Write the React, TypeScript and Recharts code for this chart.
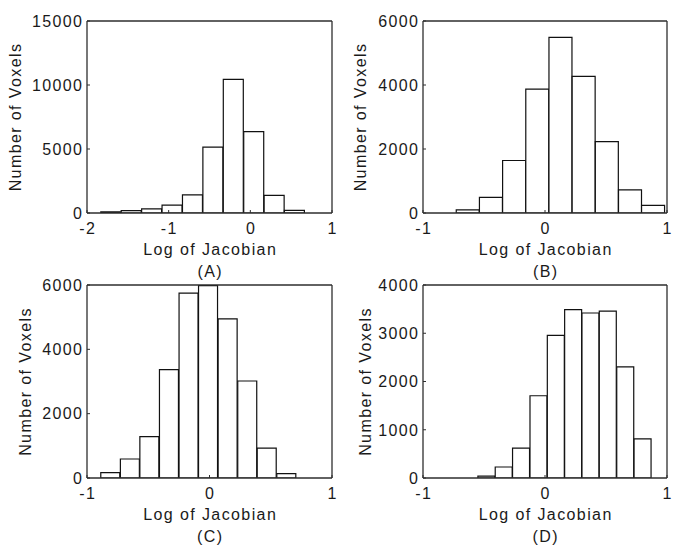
import { BarChart, Bar, XAxis, YAxis, ReferenceLine } from "recharts";

const FONT = '"Liberation Sans", Arial, Helvetica, sans-serif';
const INK = "#1a1a1a";
const FRAME = "#2e2e2e";

// (A) bin centres and voxel counts
const binsA = [-1.707, -1.457, -1.207, -0.957, -0.707, -0.457, -0.207, 0.043, 0.293, 0.541];
const countsA = [90, 180, 320, 620, 1420, 5150, 10440, 6350, 1380, 200];
// (B)
const binsB = [-0.633, -0.443, -0.253, -0.063, 0.127, 0.317, 0.507, 0.697, 0.886];
const countsB = [100, 490, 1640, 3870, 5490, 4270, 2230, 720, 240];
// (C)
const binsC = [-0.808, -0.648, -0.489, -0.329, -0.169, -0.01, 0.15, 0.31, 0.469, 0.629];
const countsC = [170, 590, 1285, 3370, 5750, 5980, 4950, 3015, 930, 135];
// (D)
const binsD = [-0.479, -0.337, -0.195, -0.052, 0.09, 0.232, 0.374, 0.516, 0.659, 0.801];
const countsD = [40, 228, 620, 1705, 2955, 3490, 3420, 3460, 2305, 810];

const xTicksWide = [-2, -1, 0, 1];
const xTicksUnit = [-1, 0, 1];
const yTicksA = [0, 5000, 10000, 15000];
const yTicksBC = [0, 2000, 4000, 6000];
const yTicksD = [0, 1000, 2000, 3000, 4000];

const X_LABEL = "Log of Jacobian";
const Y_LABEL = "Number of Voxels";

const textStyle = { fontFamily: FONT, fontSize: 16, letterSpacing: 1.4, fill: INK };

const BottomTick = (props: any) => {
  const { x, y, payload } = props;
  return (
    <g>
      <line x1={x} y1={y} x2={x} y2={y - 3} stroke={FRAME} strokeWidth={1} />
      <text x={x + 0.7} y={y + 20.5} textAnchor="middle" style={textStyle}>
        {payload.value}
      </text>
    </g>
  );
};

const LeftTick = (props: any) => {
  const { x, y, payload } = props;
  return (
    <g>
      <line x1={x} y1={y} x2={x + 3} y2={y} stroke={FRAME} strokeWidth={1} />
      <text x={x - 3.6} y={y + 5.8} textAnchor="end" style={textStyle}>
        {payload.value}
      </text>
    </g>
  );
};

interface PanelProps {
  bins: number[];
  counts: number[];
  xDomain: [number, number];
  xTicks: number[];
  yDomain: [number, number];
  yTicks: number[];
  tag: string;
  left: number;
  top: number;
  height: number;
  marginTop: number;
  marginRight: number;
  yAxisWidth: number;
  xAxisHeight: number;
  yLabelX: number;
}

function Panel(p: PanelProps) {
  const data = p.bins.map((x, i) => ({ x, count: p.counts[i] }));
  return (
    <div style={{ position: "absolute", left: p.left, top: p.top }}>
      <BarChart
        width={339}
        height={p.height}
        data={data}
        margin={{ top: p.marginTop, right: p.marginRight, left: 0, bottom: 0 }}
        barCategoryGap={0}
        barGap={0}
      >
        <XAxis
          dataKey="x"
          type="number"
          domain={p.xDomain}
          ticks={p.xTicks}
          allowDataOverflow
          height={p.xAxisHeight}
          tickSize={0}
          tickMargin={0}
          tick={<BottomTick />}
          axisLine={{ stroke: FRAME, strokeWidth: 1.3 }}
          interval={0}
          label={{
            content: (lp: any) => {
              const vb = lp.viewBox;
              const cx = vb.x + vb.width / 2 + 0.7;
              return (
                <g>
                  <text x={cx} y={vb.y + 41.5} textAnchor="middle" style={textStyle}>
                    {X_LABEL}
                  </text>
                  <text x={cx} y={vb.y + 64} textAnchor="middle" style={textStyle}>
                    {`(${p.tag})`}
                  </text>
                </g>
              );
            },
          }}
        />
        <YAxis
          type="number"
          domain={p.yDomain}
          ticks={p.yTicks}
          allowDataOverflow
          width={p.yAxisWidth}
          tickSize={0}
          tickMargin={0}
          tick={<LeftTick />}
          axisLine={{ stroke: FRAME, strokeWidth: 1.3 }}
          interval={0}
          label={{
            content: (lp: any) => {
              const vb = lp.viewBox;
              const cy = vb.y + vb.height / 2;
              return (
                <text
                  x={p.yLabelX}
                  y={cy}
                  textAnchor="middle"
                  transform={`rotate(-90, ${p.yLabelX}, ${cy})`}
                  style={textStyle}
                >
                  {Y_LABEL}
                </text>
              );
            },
          }}
        />
        <Bar dataKey="count" fill="#ffffff" stroke="#111111" strokeWidth={1.2} isAnimationActive={false} />
        {/* box edges on top and right */}
        <ReferenceLine y={p.yDomain[1]} stroke={FRAME} strokeWidth={1.3} />
        <ReferenceLine x={p.xDomain[1]} stroke={FRAME} strokeWidth={1.3} />
      </BarChart>
    </div>
  );
}

export default function App() {
  return (
    <div style={{ position: "absolute", left: 0, top: 0, width: 678, height: 549, background: "#ffffff" }}>
      <Panel
        bins={binsA}
        counts={countsA}
        xDomain={[-2, 1]}
        xTicks={xTicksWide}
        yDomain={[0, 15000]}
        yTicks={yTicksA}
        tag="A"
        left={0}
        top={0}
        height={285}
        marginTop={21}
        marginRight={7}
        yAxisWidth={87}
        xAxisHeight={72}
        yLabelX={20.5}
      />
      <Panel
        bins={binsB}
        counts={countsB}
        xDomain={[-1, 1]}
        xTicks={xTicksUnit}
        yDomain={[0, 6000]}
        yTicks={yTicksBC}
        tag="B"
        left={339}
        top={0}
        height={285}
        marginTop={21}
        marginRight={11}
        yAxisWidth={84}
        xAxisHeight={72}
        yLabelX={26.5}
      />
      <Panel
        bins={binsC}
        counts={countsC}
        xDomain={[-1, 1]}
        xTicks={xTicksUnit}
        yDomain={[0, 6000]}
        yTicks={yTicksBC}
        tag="C"
        left={0}
        top={270}
        height={279}
        marginTop={15}
        marginRight={7}
        yAxisWidth={87}
        xAxisHeight={71}
        yLabelX={30.5}
      />
      <Panel
        bins={binsD}
        counts={countsD}
        xDomain={[-1, 1]}
        xTicks={xTicksUnit}
        yDomain={[0, 4000]}
        yTicks={yTicksD}
        tag="D"
        left={339}
        top={270}
        height={279}
        marginTop={15}
        marginRight={11}
        yAxisWidth={84}
        xAxisHeight={71}
        yLabelX={31.5}
      />
    </div>
  );
}
